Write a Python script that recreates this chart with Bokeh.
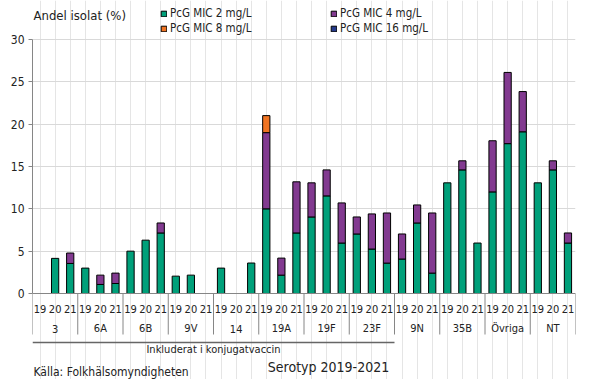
from bokeh.plotting import figure
from bokeh.models import (FactorRange, Legend, LegendItem, Label, Span,
                          Range1d, FixedTicker, ColumnDataSource)
from bokeh.core.properties import value
from bokeh.embed import file_html
from bokeh.resources import INLINE

serotypes = ["3", "6A", "6B", "9V", "14", "19A", "19F", "23F", "9N", "35B", "Övriga", "NT"]
years = ["19", "20", "21"]
vaccine_groups = ["3", "6A", "6B", "9V", "14", "19A", "19F", "23F"]

series_names = ["PcG MIC 2 mg/L", "PcG MIC 4 mg/L", "PcG MIC 8 mg/L", "PcG MIC 16 mg/L"]
series_colors = ["#00a07a", "#823a90", "#f07422", "#253a8c"]

mic2 = [0, 4.15, 3.55, 3.0, 1.07, 1.18, 5.0, 6.3, 7.15, 2.05, 2.17, 0,
        3.0, 0, 3.6, 10.0, 2.17, 7.15, 9.04, 11.53, 5.96, 7.03, 5.25, 3.59,
        4.07, 8.33, 2.41, 13.07, 14.6, 5.96, 12.0, 17.7, 19.1, 13.07, 14.6, 5.96]
mic4 = [0, 0, 1.23, 0, 1.1, 1.23, 0, 0, 1.18, 0, 0, 0,
        0, 0, 0, 9.0, 2.01, 6.04, 4.03, 3.07, 4.74, 2.01, 4.15, 5.92,
        2.96, 2.13, 7.1, 0, 1.07, 0, 6.04, 8.41, 4.75, 0, 1.07, 1.19]
mic8 = [0, 0, 0, 0, 0, 0, 0, 0, 0, 0, 0, 0,
        0, 0, 0, 2.01, 0, 0, 0, 0, 0, 0, 0, 0,
        0, 0, 0, 0, 0, 0, 0, 0, 0, 0, 0, 0]
mic16 = [0] * 36

y_ticks = [0, 5, 10, 15, 20, 25, 30]

FONT = "DejaVu Sans Condensed"
TXT = "#222222"
AX = "#868686"
NAN = float("nan")

# ---- layout (pixels) ----
W, H = 605, 379
LEFT, RIGHT = 32, 30
TOP30, ZERO = 39, 293            # page y of the 30 gridline and of the 0 axis
ppu = (ZERO - TOP30) / 30.0       # pixels per percent
y_max = ZERO / ppu
y_min = -(H - ZERO) / ppu

factors = [(s, y) for s in serotypes for y in years]
x_range = FactorRange(*factors, factor_padding=0, subgroup_padding=0,
                      group_padding=0, range_padding=0)

p = figure(x_range=x_range, y_range=Range1d(y_min, y_max),
           frame_width=W - LEFT - RIGHT, frame_height=H,
           min_border_left=LEFT, min_border_right=RIGHT, min_border_top=0,
           min_border_bottom=0, x_axis_location=None,
           output_backend="svg", toolbar_location=None)
p.outline_line_color = None
p.background_fill_color = "white"

# ---- stacked bars (zero-height segments are left undrawn) ----
bottoms = [0.0] * len(factors)
renderers = []
for vals, color in zip([mic2, mic4, mic8, mic16], series_colors):
    b, t = [], []
    for i, v in enumerate(vals):
        if v > 0:
            b.append(bottoms[i])
            t.append(bottoms[i] + v)
        else:
            b.append(NAN)
            t.append(NAN)
        bottoms[i] += v
    src = ColumnDataSource(dict(x=factors, bottom=b, top=t))
    r = p.vbar(x="x", bottom="bottom", top="top", width=0.48, source=src,
               fill_color=color, line_color="black", line_width=1)
    renderers.append(r)

# ---- y axis and grid ----
p.ygrid.grid_line_color = "#d9d9d9"
p.ygrid.ticker = FixedTicker(ticks=y_ticks)
yax = p.yaxis[0]
yax.ticker = FixedTicker(ticks=y_ticks)
yax.bounds = (0, 30)
yax.axis_line_color = AX
yax.major_tick_line_color = AX
yax.major_tick_out = 4
yax.major_tick_in = 0
yax.minor_tick_line_color = None
yax.major_label_text_font = FONT
yax.major_label_text_font_size = "12px"
yax.major_label_text_color = TXT
yax.major_label_standoff = 4

# ---- category axis (two levels) ----
p.add_layout(Span(location=0, dimension="width", line_color=AX, line_width=1))
n_years = len(years)
bounds = [i * n_years for i in range(len(serotypes) + 1)]
sep_bottom = -(334 - ZERO) / ppu
p.segment(x0=bounds, x1=bounds, y0=[0] * len(bounds), y1=[sep_bottom] * len(bounds),
          line_color=AX, line_width=1)
p.text(x=factors, y=[0] * len(factors), text=[f[1] for f in factors],
       y_offset=15, text_align="center", text_baseline="middle",
       text_font=value(FONT), text_font_size="11px", text_color=TXT)
p.text(x=serotypes, y=[0] * len(serotypes), text=serotypes,
       y_offset=35, text_align="center", text_baseline="middle",
       text_font=value(FONT), text_font_size="11px", text_color=TXT)

# line under the vaccine-included serotypes
n_vacc = len(vaccine_groups) * n_years
y_line = -(342 - ZERO) / ppu
p.segment(x0=[0], x1=[n_vacc], y0=[y_line], y1=[y_line],
          line_color="#666666", line_width=1.5)

# ---- texts (screen units: from frame left / frame bottom) ----
p.add_layout(Label(x=n_vacc / 2, x_units="data", y=H - 349, y_units="screen",
                   text="Inkluderat i konjugatvaccin", text_align="center",
                   text_baseline="middle", text_font=FONT,
                   text_font_size="11px", text_color=TXT))
p.add_layout(Label(x=328 - LEFT, x_units="screen", y=H - 366, y_units="screen",
                   text="Serotyp 2019-2021", text_align="center",
                   text_baseline="middle", text_font=FONT,
                   text_font_size="14px", text_color=TXT))
p.add_layout(Label(x=1, x_units="screen", y=H - 371, y_units="screen",
                   text="Källa: Folkhälsomyndigheten", text_align="left",
                   text_baseline="middle", text_font=FONT,
                   text_font_size="12px", text_color=TXT))
p.add_layout(Label(x=1, x_units="screen", y=H - 15, y_units="screen",
                   text="Andel isolat (%)", text_align="left",
                   text_baseline="middle", text_font=FONT,
                   text_font_size="13px", text_color=TXT))

legend = Legend(items=[LegendItem(label=n, renderers=[r], index=0)
                       for n, r in zip(series_names, renderers)],
                location=(160 - LEFT, H - 35.5), orientation="horizontal", ncols=2,
                glyph_width=7, glyph_height=7, label_standoff=3,
                label_width=160, label_height=15, spacing=0, padding=0, margin=0,
                border_line_color=None, background_fill_alpha=0,
                label_text_font=FONT, label_text_font_size="11.5px",
                label_text_color=TXT)
p.add_layout(legend, "center")

open("out.html", "w").write(file_html(p, INLINE))
